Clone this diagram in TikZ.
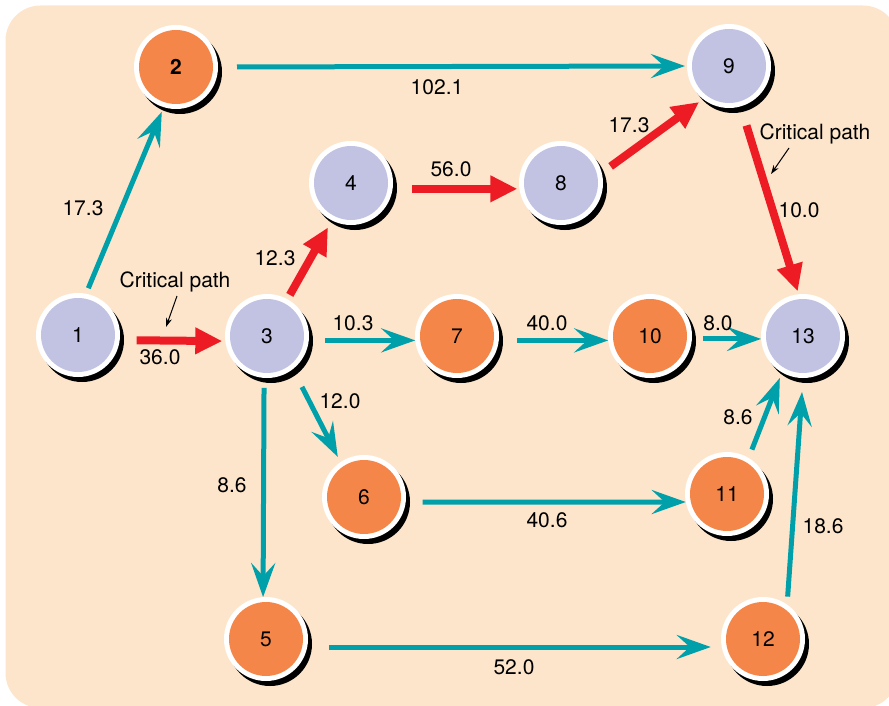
\documentclass[tikz,border=0pt]{standalone}
\usepackage{fontspec}
\setmainfont{TeX Gyre Heros}
\usetikzlibrary{arrows.meta}
\definecolor{pbg}{RGB}{253,229,203}
\definecolor{plav}{RGB}{194,195,227}
\definecolor{porange}{RGB}{244,134,73}
\definecolor{pteal}{RGB}{0,160,170}
\definecolor{pred}{RGB}{237,28,36}

\tikzset{
  event/.style={circle,minimum size=84pt,inner sep=0pt,outer sep=0pt,fill=white,
    preaction={fill=black,transform canvas={shift={(4pt,-5pt)}}},
    path picture={\fill[#1] (path picture bounding box.center) circle (37pt);},
    font=\fontsize{21}{25}\selectfont},
  lavev/.style={event=plav},
  orgev/.style={event=porange},
  act/.style={draw=pteal,line width=5pt,-{Stealth[length=34pt,width=24pt,inset=13pt]}},
  critact/.style={draw=pred,line width=8pt,-{Triangle[length=27pt,width=25pt]}},
  dur/.style={inner sep=0pt,font=\fontsize{21}{25}\selectfont},
  pointer/.style={draw=black,line width=1pt,-{Stealth[length=9pt,width=6pt]}}
}

\begin{document}
\begin{tikzpicture}[x=1pt,y=1pt]
\useasboundingbox (0,0) rectangle (889,-706);
\clip (0,0) rectangle (889,-706);
\fill[pbg,rounded corners=35pt] (5.5,-5.5) rectangle (898,-708);

% events
\node[lavev] (n1)  at (78,-335)  {1};
\node[orgev] (n2)  at (176,-67)  {\bfseries 2};
\node[lavev] (n3)  at (267,-336) {3};
\node[lavev] (n4)  at (351,-183) {4};
\node[orgev] (n5)  at (266,-639) {5};
\node[orgev] (n6)  at (364,-497) {6};
\node[orgev] (n7)  at (457,-336) {7};
\node[lavev] (n8)  at (561,-183) {8};
\node[lavev] (n9)  at (729,-66)  {9};
\node[orgev] (n10) at (650,-336) {10};
\node[orgev] (n11) at (727,-494) {11};
\node[orgev] (n12) at (763,-639) {12};
\node[lavev] (n13) at (803,-336) {13};

% critical activities
\draw[critact,shorten <=17pt,shorten >=3pt] (n1.-7) -- (n3.-173);
\draw[critact,shorten <=5pt,shorten >=8pt] (n3.61) -- (n4.243);
\draw[critact,shorten <=19pt,shorten >=2pt] (n4.-8) -- (n8.-172);
\draw[critact,shorten <=11pt,shorten >=5pt] (n8.14) -- (n9.232);
\draw[critact,shorten <=20pt,shorten >=3pt] (n9.-74) -- (n13.96);

% other activities
\draw[act,shorten <=6pt,shorten >=5pt] (n1.79) -- (n2.253);
\draw[act,shorten <=19pt,shorten >=2pt] (n2.0) -- (n9.180);
\draw[act,shorten <=16pt] (n3.-6) -- (n7.-174);
\draw[act,shorten <=18pt] (n7.-6) -- (n10.-174);
\draw[act,shorten <=11pt] (n10.-4) -- (n13.-176);
\draw[act,shorten <=20pt,shorten >=6pt] (n3.-52) -- (n6.124);
\draw[act,shorten <=10pt] (n3.-94) -- (n5.94);
\draw[act,shorten <=17pt] (n6.-7) -- (n11.-169);
\draw[act,shorten <=22pt,shorten >=11pt] (n5.-11) -- (n12.-169);
\draw[act,shorten <=9pt,shorten >=6pt] (n11.59) -- (n13.240);
\draw[act,shorten <=8pt,shorten >=14pt] (n12.55) -- (n13.270);

% durations
\node[dur] (d12)   at (83,-208)  {17.3};
\node[dur] (d13)   at (160,-357) {36.0};
\node[dur] (d34)   at (275,-258) {12.3};
\node[dur] (d48)   at (451,-169) {56.0};
\node[dur] (d89)   at (629,-125) {17.3};
\node[dur] (d29)   at (437,-87)  {102.1};
\node[dur] (d913)  at (799,-210) {10.0};
\node[dur] (d37)   at (353,-323) {10.3};
\node[dur] (d710)  at (547,-323) {40.0};
\node[dur] (d1013) at (718,-323) {8.0};
\node[dur] (d36)   at (340,-401) {12.0};
\node[dur] (d35)   at (232,-485) {8.6};
\node[dur] (d611)  at (547,-520) {40.6};
\node[dur] (d512)  at (514,-667) {52.0};
\node[dur] (d1113) at (738,-417) {8.6};
\node[dur] (d1213) at (823,-526) {18.6};

% critical path notes
\node[dur] (cp1) at (175,-282) {Critical path};
\node[dur] (cp2) at (815,-134) {Critical path};
\coordinate (cp1tip) at (166,-327);
\coordinate (cp2tip) at (771,-174);
\draw[pointer] ([shift={(2pt,-14pt)}]cp1.center) -- (cp1tip);
\draw[pointer] ([shift={(-26pt,-14pt)}]cp2.center) -- (cp2tip);
\end{tikzpicture}
\end{document}
